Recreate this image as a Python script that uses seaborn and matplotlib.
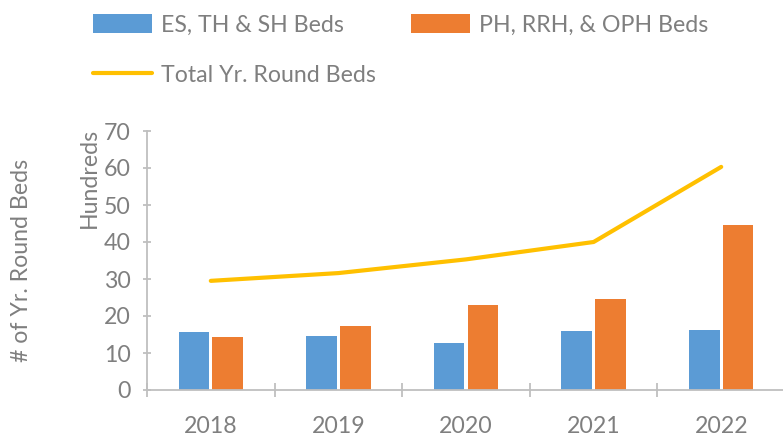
import pandas as pd
import numpy as np
import matplotlib
matplotlib.use('Agg')
import matplotlib.pyplot as plt
import seaborn as sns
from matplotlib.patches import Patch
from matplotlib.lines import Line2D

# ── Data (hundreds of beds) ───────────────────────────────────────────
years = ['2018', '2019', '2020', '2021', '2022']
es_th_sh = [15.7, 14.5, 12.7, 15.9, 16.1]
ph_rrh_oph = [14.2, 17.3, 22.9, 24.5, 44.6]
total_beds = [29.5, 31.6, 35.3, 40.0, 60.3]
series_names = ['ES, TH & SH Beds', 'PH, RRH, & OPH Beds']
line_name = 'Total Yr. Round Beds'

df = pd.DataFrame({
    'year': years * 2,
    'beds': es_th_sh + ph_rrh_oph,
    'type': [series_names[0]] * len(years) + [series_names[1]] * len(years),
})

# ── Style ─────────────────────────────────────────────────────────────
sns.set_style('white')
plt.rcParams['font.family'] = ['Lato', 'DejaVu Sans']
text_col = '#7f7f7f'
axis_col = '#bfbfbf'
blue, orange, gold = '#5b9bd5', '#ed7d31', '#ffc000'
fs = 16.7

fig = plt.figure(figsize=(7.83, 4.37), dpi=100)
ax = fig.add_axes([147 / 783, 47 / 437, 638 / 783, 259 / 437])

sns.barplot(data=df, x='year', y='beds', hue='type', order=years,
            palette=[blue, orange], saturation=1, width=0.53, gap=0.09,
            edgecolor='none', legend=False, ax=ax)
sns.lineplot(x=np.arange(len(years)), y=total_beds, color=gold,
             linewidth=3, ax=ax, legend=False)

ax.set_xlim(-0.5, 4.5)
ax.set_ylim(0, 70)
ax.set_yticks(range(0, 71, 10))
ax.set_xlabel('')
ax.set_ylabel('')

for s in ['top', 'right']:
    ax.spines[s].set_visible(False)
for s in ['left', 'bottom']:
    ax.spines[s].set_color(axis_col)
    ax.spines[s].set_linewidth(1.3)

ax.tick_params(axis='y', which='major', direction='inout', length=6,
               width=1.3, color=axis_col, labelcolor=text_col,
               labelsize=fs, pad=8.5, left=True)
ax.tick_params(axis='x', which='major', length=0, labelcolor=text_col,
               labelsize=fs, pad=19, bottom=True)
ax.set_xticks(np.arange(-0.5, 4.0, 1.0), minor=True)
ax.tick_params(axis='x', which='minor', direction='inout', length=10,
               width=1.3, color=axis_col, bottom=True)

# axis titles
fig.text(22 / 783, 1 - 260 / 437, '# of Yr. Round Beds', rotation=90,
         ha='center', va='center', fontsize=fs, color=text_col)
fig.text(89 / 783, 1 - 128 / 437, 'Hundreds', rotation=90,
         ha='center', va='top', fontsize=fs, color=text_col)

# ── Legend ────────────────────────────────────────────────────────────
handles = [Patch(facecolor=blue, edgecolor='none'),
           Line2D([0], [0], color=gold, linewidth=3),
           Patch(facecolor=orange, edgecolor='none')]
labels = [series_names[0], line_name, series_names[1]]
fig.legend(handles, labels, loc='upper left', ncol=2, frameon=False,
           bbox_to_anchor=(93 / 783, 1 - 14 / 437), borderpad=0,
           borderaxespad=0, fontsize=fs, labelcolor=text_col,
           handlelength=2.54, handleheight=0.86, handletextpad=0.4,
           columnspacing=1.5, labelspacing=1.25)

plt.savefig('out.png', dpi=100)
